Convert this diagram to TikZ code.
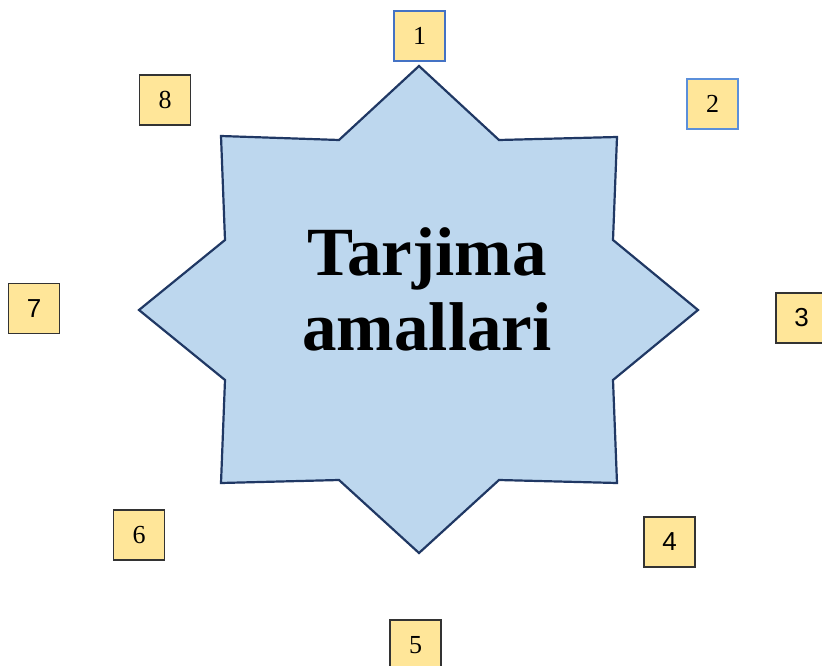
\documentclass[tikz,border=0pt]{standalone}
\usepackage{fontspec}
\setmainfont{Liberation Serif}
\newfontfamily\arialfont{Liberation Sans}
\usetikzlibrary{positioning}

\definecolor{starfill}{HTML}{BDD7EE}
\definecolor{starline}{HTML}{203864}
\definecolor{boxfill}{HTML}{FFE699}
\definecolor{boxblue}{HTML}{4472C4}
\definecolor{boxlight}{HTML}{5B8FDA}

\begin{document}
\begin{tikzpicture}[x=1pt, y=-1pt,
  numbox/.style={rectangle, draw=black!80, line width=1.1pt, fill=boxfill, minimum width=51pt, minimum height=50pt, inner sep=0pt, font=\fontsize{26}{28}\selectfont},
  sansnum/.style={font=\fontsize{26}{28}\selectfont\arialfont},
  title/.style={align=center, font=\fontsize{69}{75}\selectfont\bfseries}
]
  \useasboundingbox (0,0) rectangle (822,666);

  % the star
  \draw[draw=starline, fill=starfill, line width=2.2pt, line join=miter]
    (419,66) -- (499,140) -- (617,137) -- (613,240) -- (698,310)
    -- (613,380) -- (617,483) -- (499,480) -- (419,553)
    -- (339,480) -- (221,483) -- (225,380) -- (139,310)
    -- (225,240) -- (221,136) -- (339,140) -- cycle;

  \node[title] (center) at (427,289) {Tarjima\\amallari};

  % number boxes
  \node[numbox, draw=boxblue] (n1) at (419.5,36) {1};
  \node[numbox, draw=boxlight] (n2) at (712.5,104) {2};
  \node[numbox, sansnum] (n3) at (801.5,318) {3};
  \node[numbox, sansnum] (n4) at (669.5,542) {4};
  \node[numbox] (n5) at (415.5,645) {5};
  \node[numbox] (n6) at (139,535) {6};
  \node[numbox, sansnum] (n7) at (34,308.5) {7};
  \node[numbox] (n8) at (165,100) {8};
\end{tikzpicture}
\end{document}
